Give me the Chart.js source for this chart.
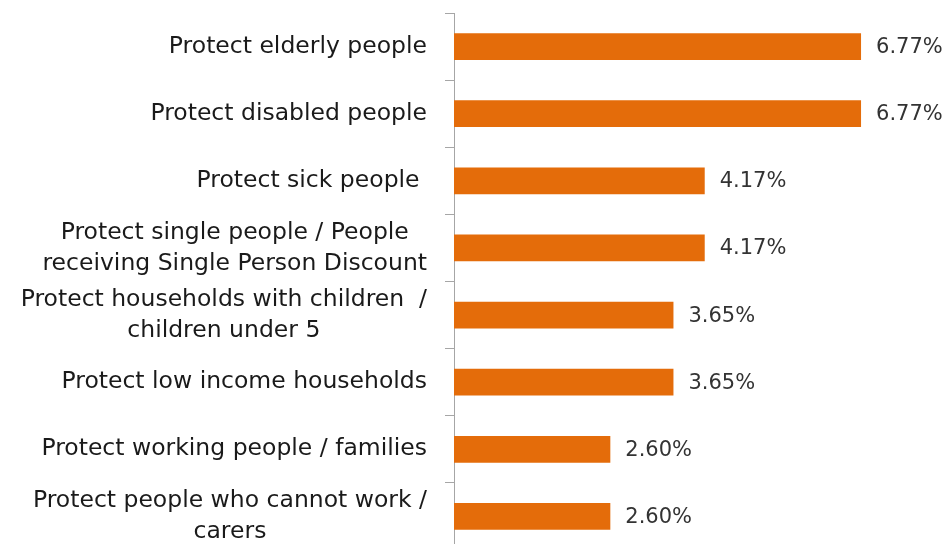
<!DOCTYPE html>
<html>
<head>
<meta charset="utf-8">
<script src="https://cdn.jsdelivr.net/npm/chart.js@4/dist/chart.umd.min.js"></script>
<style>
    html, body { margin: 0; padding: 0; background: #ffffff; overflow: hidden; }
    #wrap { position: relative; width: 949px; height: 556px; }
</style>
</head>
<body>
<div id="wrap"><canvas id="chart"></canvas></div>
<script>
const categories = [
    ['Protect elderly people'],
    ['Protect disabled people'],
    ['Protect sick people '],
    ['Protect single people / People', 'receiving Single Person Discount'],
    ['Protect households with children  /', 'children under 5'],
    ['Protect low income households'],
    ['Protect working people / families'],
    ['Protect people who cannot work /', 'carers']
];
const shares = [6.77, 6.77, 4.17, 4.17, 3.65, 3.65, 2.60, 2.60];

const BAR_COLOR  = '#E46C0A';
const AXIS_COLOR = '#A6A6A6';
const FONT       = '"DejaVu Sans", sans-serif';
const LABEL_GAP  = 27;
const LINE_H     = 31;

// category labels: block right-aligned to the axis, lines centred inside it
const categoryLabels = {
    id: 'categoryLabels',
    afterDraw(chart) {
        const ctx    = chart.ctx;
        const yScale = chart.scales.y;
        const right  = yScale.right - LABEL_GAP;
        ctx.save();
        ctx.fillStyle    = '#1a1a1a';
        ctx.font         = '23.5px ' + FONT;
        ctx.textAlign    = 'center';
        ctx.textBaseline = 'middle';
        categories.forEach((lines, i) => {
            const y     = yScale.getPixelForTick(i);
            const width = Math.max(...lines.map(l => ctx.measureText(l).width));
            const cx    = right - width / 2;
            const top   = y - (lines.length - 1) * LINE_H / 2;
            lines.forEach((l, j) => ctx.fillText(l, cx, top + j * LINE_H));
        });
        ctx.restore();
    }
};

// value labels at the end of each bar
const valueLabels = {
    id: 'valueLabels',
    afterDatasetsDraw(chart) {
        const ctx  = chart.ctx;
        const meta = chart.getDatasetMeta(0);
        ctx.save();
        ctx.fillStyle    = '#333333';
        ctx.font         = '21px ' + FONT;
        ctx.textAlign    = 'left';
        ctx.textBaseline = 'middle';
        meta.data.forEach((bar, i) => {
            ctx.fillText(shares[i].toFixed(2) + '%', bar.x + 15, bar.y + 1);
        });
        ctx.restore();
    }
};

const ctx = document.getElementById('chart').getContext('2d');
new Chart(ctx, {
    type: 'bar',
    data: {
        labels: categories,
        datasets: [{
            data:               shares,
            backgroundColor:    BAR_COLOR,
            borderWidth:        0,
            barPercentage:      0.8,
            categoryPercentage: 0.5,
        }]
    },
    options: {
        indexAxis:           'y',
        responsive:          true,
        maintainAspectRatio: false,
        animation:           false,
        layout: { padding: { top: 13, bottom: 6, right: 14, left: 0 } },
        plugins: {
            legend:  { display: false },
            tooltip: { enabled: false }
        },
        scales: {
            x: {
                display: false,
                min:     0,
                max:     8
            },
            y: {
                afterFit(axis) {
                    axis.width = 454;
                    axis.paddingTop = 0;
                    axis.paddingBottom = 0;
                },
                ticks: { display: false },
                grid: {
                    offset:          true,
                    drawOnChartArea: false,
                    tickLength:      9,
                    color:           AXIS_COLOR
                },
                border: { color: AXIS_COLOR, width: 1 }
            }
        }
    },
    plugins: [categoryLabels, valueLabels]
});
</script>
</body>
</html>
